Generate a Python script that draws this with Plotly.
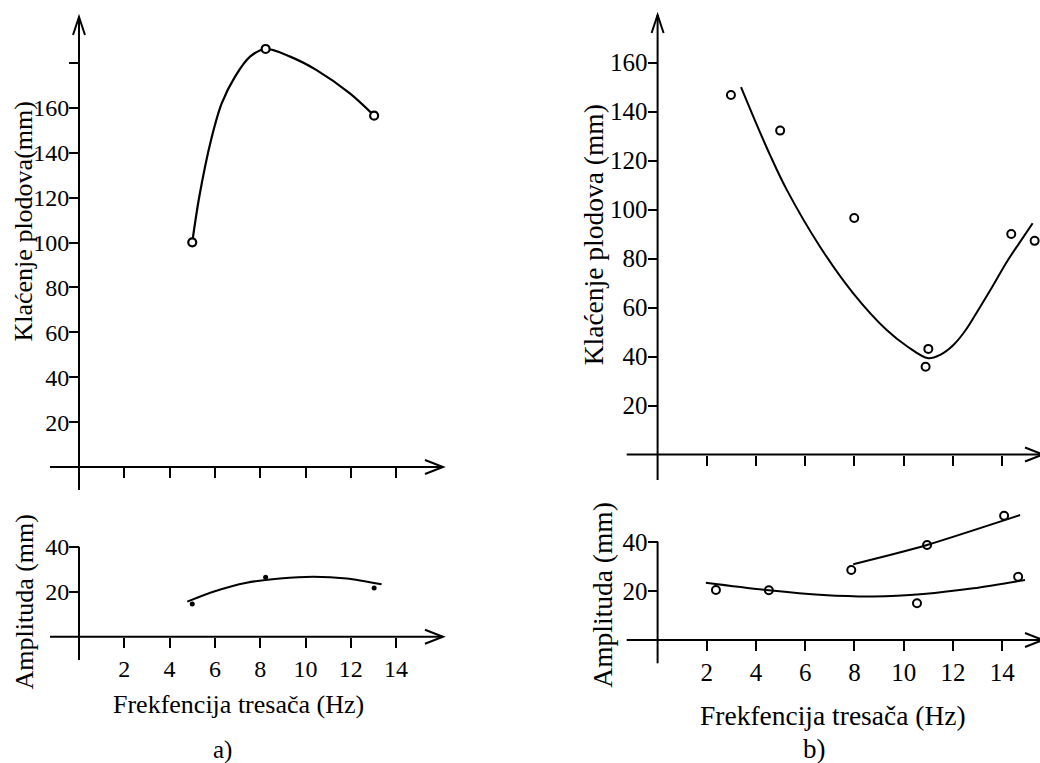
import plotly.graph_objects as go

W, H = 1040, 763
FONT = "Liberation Serif, Times New Roman, serif"

# ---------------- data ----------------
# a) fruit swing and shaker amplitude vs. shaker frequency
freq_a = [5.0, 8.24, 13.03]
klacenje_a = [100.1, 186.2, 156.5]
klacenje_a_fit_x = [5.0, 5.31, 5.83, 6.30, 6.89, 7.55, 8.24, 9.32, 10.49, 11.96, 13.03]
klacenje_a_fit_y = [100.1, 120.4, 145.7, 162.0, 173.9, 182.8, 186.2, 182.8, 176.8, 166.4, 156.5]

amplituda_a = [14.5, 26.4, 21.6]
amplituda_a_fit_x = [4.78, 5.93, 7.40, 8.87, 10.34, 11.82, 13.36]
amplituda_a_fit_y = [15.6, 20.0, 24.0, 25.9, 26.7, 25.9, 23.3]

# b) second shaker
freq_b = [2.98, 4.98, 7.99, 11.0, 10.89, 14.37, 15.32]
klacenje_b = [146.7, 132.2, 96.5, 43.1, 35.8, 90.0, 87.2]
klacenje_b_fit_x = [3.39, 3.89, 4.57, 5.25, 6.60, 7.95, 9.31, 10.12, 11.0,
                    11.5, 12.0, 12.5, 13.0, 13.6, 14.2, 14.73, 15.24]
klacenje_b_fit_y = [149.9, 137.9, 122.2, 108.0, 84.8, 65.8, 50.8, 44.3, 39.3,
                    40.8, 44.5, 50.5, 58.5, 68.5, 78.8, 86.8, 94.4]

amp_b_upper_x = [7.87, 10.95, 14.08]
amp_b_upper_y = [28.6, 38.8, 50.7]
amp_b_upper_fit_x = [7.95, 9.44, 10.95, 14.73]
amp_b_upper_fit_y = [30.9, 34.7, 38.8, 51.0]

amp_b_lower_x = [2.37, 4.52, 10.54, 14.65]
amp_b_lower_y = [20.4, 20.3, 15.0, 25.8]
amp_b_lower_fit_x = [1.96, 4.52, 6.73, 8.77, 10.8, 12.83, 14.93]
amp_b_lower_fit_y = [23.4, 20.3, 18.4, 17.8, 18.8, 21.1, 24.5]

freq_ticks = [2, 4, 6, 8, 10, 12, 14]
klacenje_a_ticks = [20, 40, 60, 80, 100, 120, 140, 160, 180]
klacenje_a_ticktext = ["20", "40", "60", "80", "100", "120", "140", "160", ""]
klacenje_b_ticks = [20, 40, 60, 80, 100, 120, 140, 160]
amp_ticks = [20, 40]

# ---------------- panel geometry (pixels) ----------------
# origin = where the two axis lines cross; s = pixels per data unit
panels = {
    "a_top": dict(ox=79.0, oy=467.0, sx=22.65, sy=2.245, dom=(45, 450, 8, 495),
                  xline=(50, 443), yline=(490, 17), yarrow=True),
    "a_bot": dict(ox=79.0, oy=636.7, sx=22.65, sy=2.25, dom=(45, 450, 535, 668),
                  xline=(50, 443), yline=(660, 546.7), yarrow=False),
    "b_top": dict(ox=657.6, oy=454.5, sx=24.61, sy=2.45, dom=(620, 1040, 6, 486),
                  xline=(626.7, 1043), yline=(480, 15), yarrow=True),
    "b_bot": dict(ox=657.6, oy=640.0, sx=24.61, sy=2.45, dom=(620, 1040, 498, 668),
                  xline=(626.7, 1043), yline=(663.3, 541.7), yarrow=False),
}
order = ["a_top", "a_bot", "b_top", "b_bot"]

fig = go.Figure()
layout = dict(
    width=W, height=H, autosize=False,
    margin=dict(l=0, r=0, t=0, b=0),
    paper_bgcolor="white", plot_bgcolor="rgba(0,0,0,0)",
    showlegend=False,
    font=dict(family=FONT, color="black"),
)

shapes = []
axis_ids = {}


def to_dx(p, px):
    return (px - p["ox"]) / p["sx"]


def to_dy(p, py):
    return (p["oy"] - py) / p["sy"]


for i, key in enumerate(order, start=1):
    p = panels[key]
    x0, x1, y0, y1 = p["dom"]
    xa = "xaxis" if i == 1 else f"xaxis{i}"
    ya = "yaxis" if i == 1 else f"yaxis{i}"
    xr = "x" if i == 1 else f"x{i}"
    yr = "y" if i == 1 else f"y{i}"
    axis_ids[key] = (xr, yr)
    is_b = key.startswith("b")
    tick_font = dict(family=FONT, size=25 if is_b else 24, color="black")
    common = dict(showgrid=False, zeroline=False, showline=False,
                  ticks="outside", ticklen=10, tickwidth=2, tickcolor="black",
                  tickfont=tick_font, fixedrange=True, tickmode="array")
    bottom = key.endswith("bot")
    layout[xa] = dict(
        common, domain=[x0 / W, x1 / W],
        range=[to_dx(p, x0), to_dx(p, x1)],
        anchor="free", position=1 - p["oy"] / H, side="bottom",
        tickvals=freq_ticks, ticktext=[str(t) for t in freq_ticks],
        showticklabels=bottom,
    )
    if key == "a_top":
        yt, ytt = klacenje_a_ticks, klacenje_a_ticktext
    elif key == "b_top":
        yt, ytt = klacenje_b_ticks, [str(t) for t in klacenje_b_ticks]
    else:
        yt, ytt = amp_ticks, [str(t) for t in amp_ticks]
    layout[ya] = dict(
        common, domain=[1 - y1 / H, 1 - y0 / H],
        range=[to_dy(p, y1), to_dy(p, y0)],
        anchor="free", position=p["ox"] / W, side="left",
        tickvals=yt, ticktext=ytt, ticklabelstandoff=-5,
    )

    # axis lines with open arrow heads
    line = dict(color="black", width=2)
    shapes.append(dict(type="line", xref=xr, yref=yr, layer="above",
                       x0=to_dx(p, p["xline"][0]), x1=to_dx(p, p["xline"][1]),
                       y0=0, y1=0, line=line))
    shapes.append(dict(type="line", xref=xr, yref=yr, layer="above",
                       x0=0, x1=0,
                       y0=to_dy(p, p["yline"][0]), y1=to_dy(p, p["yline"][1]),
                       line=line))
    shapes.append(dict(type="path", xref=xr, yref=yr, layer="above",
                       xsizemode="pixel", ysizemode="pixel",
                       xanchor=to_dx(p, p["xline"][1]), yanchor=0,
                       path="M -18 -7 L 0 0 L -18 7", line=line))
    if p["yarrow"]:
        shapes.append(dict(type="path", xref=xr, yref=yr, layer="above",
                           xsizemode="pixel", ysizemode="pixel",
                           xanchor=0, yanchor=to_dy(p, p["yline"][1]),
                           path="M -6 -18 L 0 0 L 6 -18", line=line))

layout["shapes"] = shapes
fig.update_layout(**layout)


def add(key, x, y, **kw):
    xr, yr = axis_ids[key]
    fig.add_trace(go.Scatter(x=x, y=y, xaxis=xr, yaxis=yr, cliponaxis=False,
                             hoverinfo="skip", **kw))


# a) upper: fitted curve + measured points
add("a_top", klacenje_a_fit_x, klacenje_a_fit_y, mode="lines",
    line=dict(color="black", width=2.2, shape="spline", smoothing=0.9))
add("a_top", freq_a, klacenje_a, mode="markers",
    marker=dict(symbol="circle", size=8, color="white",
                line=dict(color="black", width=2.2)))

# a) lower: amplitude
add("a_bot", amplituda_a_fit_x, amplituda_a_fit_y, mode="lines",
    line=dict(color="black", width=2, shape="spline", smoothing=0.8))
add("a_bot", freq_a, amplituda_a, mode="markers",
    marker=dict(symbol="circle", size=5, color="black"))

# b) upper
add("b_top", klacenje_b_fit_x, klacenje_b_fit_y, mode="lines",
    line=dict(color="black", width=2, shape="spline", smoothing=1.0))
add("b_top", freq_b, klacenje_b, mode="markers",
    marker=dict(symbol="circle-open", size=8, color="black",
                line=dict(color="black", width=2)))

# b) lower: two amplitude series
add("b_bot", amp_b_upper_fit_x, amp_b_upper_fit_y, mode="lines",
    line=dict(color="black", width=2, shape="spline", smoothing=0.8))
add("b_bot", amp_b_upper_x, amp_b_upper_y, mode="markers",
    marker=dict(symbol="circle-open", size=8, color="black",
                line=dict(color="black", width=2)))
add("b_bot", amp_b_lower_fit_x, amp_b_lower_fit_y, mode="lines",
    line=dict(color="black", width=2, shape="spline", smoothing=0.8))
add("b_bot", amp_b_lower_x, amp_b_lower_y, mode="markers",
    marker=dict(symbol="circle-open", size=8, color="black",
                line=dict(color="black", width=2)))


# titles and captions
def label(text, x, y, size, angle=0):
    fig.add_annotation(text=text, x=x / W, y=1 - y / H, xref="paper", yref="paper",
                       xanchor="center", yanchor="middle", showarrow=False,
                       textangle=angle, font=dict(family=FONT, size=size, color="black"))


label("Klaćenje plodova(mm)", 23, 221.5, 26, -90)
label("Amplituda (mm)", 24, 602.5, 26, -90)
label("Frekfencija tresača (Hz)", 238.5, 704, 26)
label("a)", 222, 750, 25)

label("Klaćenje plodova (mm)", 593.3, 235, 27.5, -90)
label("Amplituda (mm)", 601.7, 595, 27.5, -90)
label("Frekfencija tresača (Hz)", 832.5, 715, 27.5)
label("b)", 814, 749, 27)

fig.write_html("out.html")
